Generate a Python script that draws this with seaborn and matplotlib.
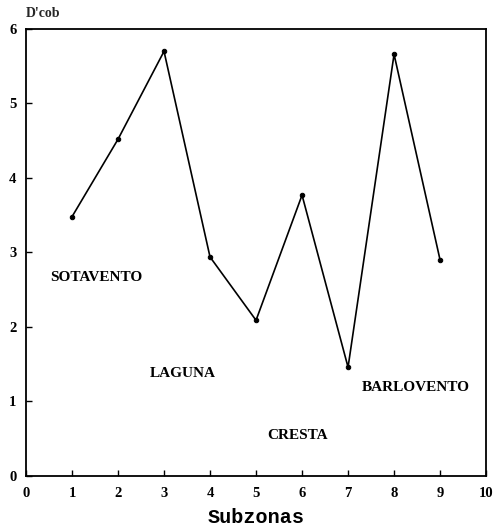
import matplotlib
matplotlib.use("Agg")
import matplotlib.pyplot as plt
import seaborn as sns
import pandas as pd

# Subzone index and D'cob values
subzonas = [1, 2, 3, 4, 5, 6, 7, 8, 9]
dcob = [3.48, 4.52, 5.70, 2.94, 2.09, 3.77, 1.46, 5.66, 2.90]

# Zone labels placed in data coordinates
zone_names = ["SOTAVENTO", "LAGUNA", "CRESTA", "BARLOVENTO"]
zone_x = [1.52, 3.40, 5.90, 8.48]
zone_y = [2.67, 1.38, 0.55, 1.19]

x_ticks = list(range(0, 11))
y_ticks = list(range(0, 7))

sns.set_theme(style="ticks")
plt.rcParams["font.family"] = ["Liberation Serif", "DejaVu Serif"]

fig = plt.figure(figsize=(4.96, 5.30), dpi=100)
ax = fig.add_axes([0.0524, 0.1019, 0.9276, 0.8434])

df = pd.DataFrame({"Subzonas": subzonas, "Dcob": dcob})
sns.lineplot(data=df, x="Subzonas", y="Dcob", ax=ax, color="black",
             linewidth=1.2, marker="o", markersize=3.2,
             markeredgecolor="black", markerfacecolor="black")

for name, zx, zy in zip(zone_names, zone_x, zone_y):
    ax.text(zx, zy, name, ha="center", va="center", fontsize=11,
            fontweight="bold", color="black")

ax.set_xlim(0, 10)
ax.set_ylim(0, 6)
ax.set_xticks(x_ticks)
ax.set_yticks(y_ticks)
ax.tick_params(axis="both", direction="in", length=4, width=1.0,
               labelsize=10.5, colors="black")
ax.tick_params(axis="x", pad=8)
ax.tick_params(axis="y", pad=7)
for lbl in ax.get_xticklabels() + ax.get_yticklabels():
    lbl.set_fontweight("bold")

for sp in ax.spines.values():
    sp.set_visible(True)
    sp.set_linewidth(1.3)
    sp.set_color("black")

ax.set_xlabel("")
ax.set_ylabel("")
fig.text(0.516, 0.006, "Subzonas", fontsize=14.5, family="Liberation Mono",
         fontweight="bold", ha="center", va="bottom", color="black")
fig.text(0.052, 0.975, "D'cob", fontsize=10, fontweight="bold",
         ha="left", va="center")

fig.savefig("out.png", dpi=100, facecolor="white")
